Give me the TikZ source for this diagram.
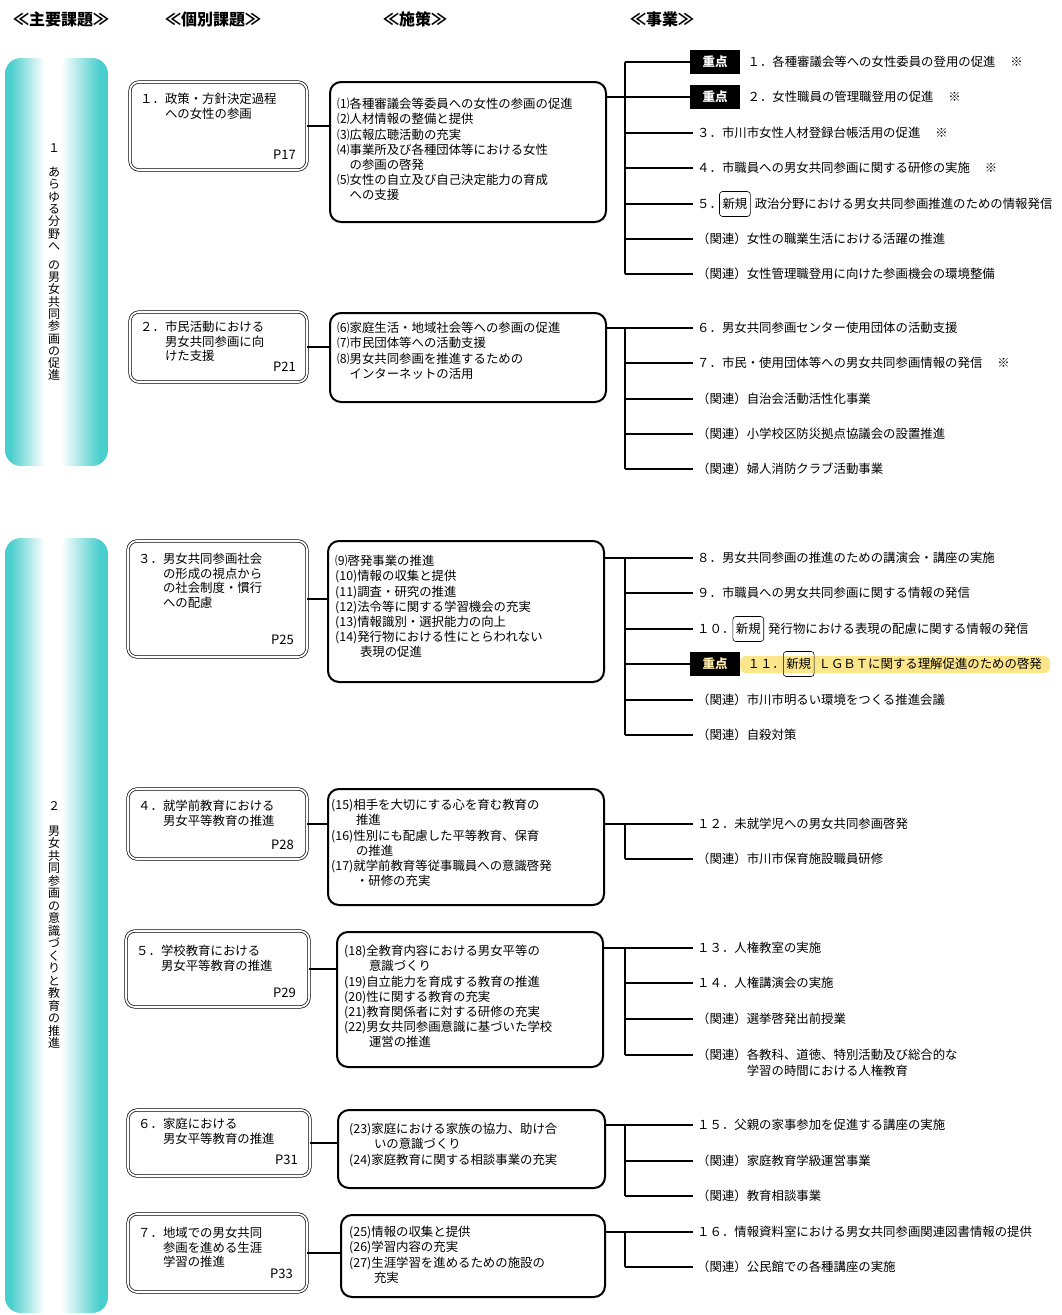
\documentclass[tikz,border=0pt]{standalone}
\usepackage{fontspec}
\setmainfont{Noto Sans CJK JP}
\definecolor{barc}{RGB}{72,206,204}
\definecolor{hlc}{RGB}{252,230,140}
\definecolor{jcream}{RGB}{255,238,175}
\pgfdeclarehorizontalshading{barshade}{100bp}{color(0bp)=(barc); color(25bp)=(barc); color(27.5bp)=(barc); color(44bp)=(white); color(52.5bp)=(white); color(71bp)=(barc); color(75bp)=(barc); color(100bp)=(barc)}
\begin{document}
\begin{tikzpicture}[x=1pt,y=-1pt,
  hdr/.style={font=\fontsize{16}{16}\selectfont\bfseries, inner sep=0},
  sidebar/.style={shading=barshade, rounded corners=16pt},
  vtxt/.style={align=center, anchor=north, inner sep=0},
  boxa/.style={draw, double=white, double distance=1.8pt, line width=0.7pt, rounded corners=9pt, inner sep=0},
  boxb/.style={draw, line width=2pt, rounded corners=11pt, inner sep=0},
  btxt/.style={font=\fontsize{12.4}{15.2}\selectfont, align=left, anchor=north west, inner sep=0},
  atxt/.style={font=\fontsize{12.4}{14.6}\selectfont, align=left, anchor=north west, inner sep=0},
  pg/.style={font=\fontsize{13}{13}\selectfont, anchor=east, inner sep=0},
  item/.style={font=\fontsize{12.4}{15}\selectfont, anchor=west, inner xsep=4pt, inner ysep=0},
  juten/.style={fill=black, text=white, font=\fontsize{12.5}{12}\selectfont\bfseries, minimum width=50, minimum height=24, anchor=west, inner sep=0},
  shinki/.style={draw, rounded corners=3pt, line width=0.6pt, font=\fontsize{12.4}{12}\selectfont, minimum height=25, anchor=west, inner xsep=3pt, inner ysep=0},
  ln/.style={line width=2pt},
  lnab/.style={line width=2.4pt}
]
\useasboundingbox (0,0) rectangle (1062,1315);
\fill[white] (0,0) rectangle (1062,1315);

% headers
\node[hdr] (h1) at (61,19) {≪主要課題≫};
\node[hdr] (h2) at (213,19) {≪個別課題≫};
\node[hdr] (h3) at (415,19) {≪施策≫};
\node[hdr] (h4) at (662,19) {≪事業≫};

% sidebars
\path[sidebar] (5,58) rectangle (108,466);
\path[sidebar] (5,538) rectangle (108,1313);
\node[vtxt, font=\fontsize{12}{12.3}\selectfont] (v1) at (54,143) {１\\　\\あ\\ら\\ゆ\\る\\分\\野\\へ\\[6.5pt]の\\男\\女\\共\\同\\参\\画\\の\\促\\進};
\node[vtxt, font=\fontsize{12}{12.5}\selectfont] (v2) at (54,801) {２\\　\\男\\女\\共\\同\\参\\画\\の\\意\\識\\づ\\く\\り\\と\\教\\育\\の\\推\\進};

% trunk x reference
\coordinate (tx) at (625,0);

% ================= group 1
\node[boxa, minimum width=177, minimum height=88] (a1) at (218.5,126) {};
\node[atxt] (a1t) at (140,93) {１．政策・方針決定過程\\　　への女性の参画};
\node[pg] (a1p) at (296,155) {P17};
\node[boxb, minimum width=276, minimum height=140] (b1) at (468,152) {};
\node[btxt] (b1t) at (337,98) {⑴各種審議会等委員への女性の参画の促進\\⑵人材情報の整備と提供\\⑶広報広聴活動の充実\\⑷事業所及び各種団体等における女性\\　の参画の啓発\\⑸女性の自立及び自己決定能力の育成\\　への支援};
\draw[lnab] (a1.east) -- (a1.east -| b1.west);

\node[juten] (j1) at (690,62) {重点};
\node[item] (i1) at ([xshift=3pt]j1.east) {１．各種審議会等への女性委員の登用の促進\hspace{1.2em}※};
\node[juten] (j2) at (690,97) {重点};
\node[item] (i2) at ([xshift=3pt]j2.east) {２．女性職員の管理職登用の促進\hspace{1.2em}※};
\node[item] (i3) at (693,133) {３．市川市女性人材登録台帳活用の促進\hspace{1.2em}※};
\node[item] (i4) at (693,168) {４．市職員への男女共同参画に関する研修の実施\hspace{1.2em}※};
\node[item] (i5n) at (693,204) {５．};
\node[shinki] (i5s) at ([xshift=-7pt]i5n.east) {新規\hspace{7pt}};
\node[item] (i5) at ([xshift=0pt]i5s.east) {政治分野における男女共同参画推進のための情報発信};
\node[item] (i6) at (693,239) {（関連）女性の職業生活における活躍の推進};
\node[item] (i7) at (693,274) {（関連）女性管理職登用に向けた参画機会の環境整備};
\draw[ln] (b1.east |- j2.west) -- (j2.west -| tx);
\draw[ln] (j1.west -| tx) -- (i7.west -| tx);
\draw[ln] (j1.west -| tx) -- (j1.west);
\draw[ln] (j2.west -| tx) -- (j2.west);
\foreach \n in {i3,i4,i5n,i6,i7} \draw[ln] (\n.west -| tx) -- (\n.west);

% ================= group 2
\node[boxa, minimum width=177, minimum height=70] (a2) at (218.5,347) {};
\node[atxt] (a2t) at (140,321) {２．市民活動における\\　　男女共同参画に向\\　　けた支援};
\node[pg] (a2p) at (296,367) {P21};
\node[boxb, minimum width=276, minimum height=89] (b2) at (468,357.5) {};
\node[btxt] (b2t) at (337,322) {⑹家庭生活・地域社会等への参画の促進\\⑺市民団体等への活動支援\\⑻男女共同参画を推進するための\\　インターネットの活用};
\draw[lnab] (a2.east) -- (a2.east -| b2.west);

\node[item] (k1) at (693,328) {６．男女共同参画センター使用団体の活動支援};
\node[item] (k2) at (693,363) {７．市民・使用団体等への男女共同参画情報の発信\hspace{1.2em}※};
\node[item] (k3) at (693,399) {（関連）自治会活動活性化事業};
\node[item] (k4) at (693,434) {（関連）小学校区防災拠点協議会の設置推進};
\node[item] (k5) at (693,469) {（関連）婦人消防クラブ活動事業};
\draw[ln] (b2.east |- k1.west) -- (k1.west -| tx);
\draw[ln] (k1.west -| tx) -- (k5.west -| tx);
\foreach \n in {k1,k2,k3,k4,k5} \draw[ln] (\n.west -| tx) -- (\n.west);

% ================= group 3
\node[boxa, minimum width=179, minimum height=116] (a3) at (217.5,599) {};
\node[atxt] (a3t) at (138,553) {３．男女共同参画社会\\　　の形成の視点から\\　　の社会制度・慣行\\　　への配慮};
\node[pg] (a3p) at (294,640) {P25};
\node[boxb, minimum width=276, minimum height=141] (b3) at (466,611.5) {};
\node[btxt] (b3t) at (335,555) {⑼啓発事業の推進\\(10)情報の収集と提供\\(11)調査・研究の推進\\(12)法令等に関する学習機会の充実\\(13)情報識別・選択能力の向上\\(14)発行物における性にとらわれない\\　　表現の促進};
\draw[lnab] (a3.east) -- (a3.east -| b3.west);

\fill[hlc, rounded corners=6pt] (740,656) rectangle (1050,673);
\node[item] (m1) at (693,558) {８．男女共同参画の推進のための講演会・講座の実施};
\node[item] (m2) at (693,593) {９．市職員への男女共同参画に関する情報の発信};
\node[item] (m3n) at (693,629) {１０．};
\node[shinki] (m3s) at ([xshift=-6pt]m3n.east) {新規\hspace{7pt}};
\node[item] (m3) at (m3s.east) {発行物における表現の配慮に関する情報の発信};
\node[juten, text=jcream] (m4j) at (690,664) {重点};
\node[item] (m4n) at ([xshift=3pt]m4j.east) {１１．};
\node[shinki] (m4s) at ([xshift=-6pt]m4n.east) {新規\hspace{7pt}};
\node[item] (m4) at (m4s.east) {ＬＧＢＴに関する理解促進のための啓発};
\node[item] (m5) at (693,700) {（関連）市川市明るい環境をつくる推進会議};
\node[item] (m6) at (693,735) {（関連）自殺対策};
\draw[ln] (b3.east |- m1.west) -- (m1.west -| tx);
\draw[ln] (m1.west -| tx) -- (m6.west -| tx);
\foreach \n in {m1,m2,m3n,m4j,m5,m6} \draw[ln] (\n.west -| tx) -- (\n.west);

% ================= group 4
\node[boxa, minimum width=179, minimum height=70] (a4) at (217.5,824) {};
\node[atxt] (a4t) at (138,800) {４．就学前教育における\\　　男女平等教育の推進};
\node[pg] (a4p) at (294,845) {P28};
\node[boxb, minimum width=276, minimum height=116] (b4) at (466,847) {};
\node[btxt] (b4t) at (331,799) {(15)相手を大切にする心を育む教育の\\　　推進\\(16)性別にも配慮した平等教育、保育\\　　の推進\\(17)就学前教育等従事職員への意識啓発\\　　・研修の充実};
\draw[lnab] (a4.east) -- (a4.east -| b4.west);

\node[item] (n1) at (693,824) {１２．未就学児への男女共同参画啓発};
\node[item] (n2) at (693,859) {（関連）市川市保育施設職員研修};
\draw[ln] (b4.east |- n1.west) -- (n1.west -| tx);
\draw[ln] (n1.west -| tx) -- (n2.west -| tx);
\foreach \n in {n1,n2} \draw[ln] (\n.west -| tx) -- (\n.west);

% ================= group 5
\node[boxa, minimum width=183, minimum height=76] (a5) at (217.5,969) {};
\node[atxt] (a5t) at (136,945) {５．学校教育における\\　　男女平等教育の推進};
\node[pg] (a5p) at (296,993) {P29};
\node[boxb, minimum width=266, minimum height=135] (b5) at (470,999.5) {};
\node[btxt] (b5t) at (344,945) {(18)全教育内容における男女平等の\\　　意識づくり\\(19)自立能力を育成する教育の推進\\(20)性に関する教育の充実\\(21)教育関係者に対する研修の充実\\(22)男女共同参画意識に基づいた学校\\　　運営の推進};
\draw[lnab] (a5.east) -- (a5.east -| b5.west);

\node[item] (p1) at (693,948) {１３．人権教室の実施};
\node[item] (p2) at (693,983) {１４．人権講演会の実施};
\node[item] (p3) at (693,1019) {（関連）選挙啓発出前授業};
\node[item] (p4) at (693,1055) {（関連）各教科、道徳、特別活動及び総合的な};
\node[item] (p4b) at ([yshift=-16pt]p4.west) {　　　　学習の時間における人権教育};
\draw[ln] (b5.east |- p1.west) -- (p1.west -| tx);
\draw[ln] (p1.west -| tx) -- (p4.west -| tx);
\foreach \n in {p1,p2,p3,p4} \draw[ln] (\n.west -| tx) -- (\n.west);

% ================= group 6
\node[boxa, minimum width=182, minimum height=66] (a6) at (219,1143) {};
\node[atxt] (a6t) at (138,1118) {６．家庭における\\　　男女平等教育の推進};
\node[pg] (a6p) at (298,1160) {P31};
\node[boxb, minimum width=267, minimum height=78] (b6) at (471.5,1149) {};
\node[btxt] (b6t) at (349,1123) {(23)家庭における家族の協力、助け合\\　　いの意識づくり\\(24)家庭教育に関する相談事業の充実};
\draw[lnab] (a6.east) -- (a6.east -| b6.west);

\node[item] (q1) at (693,1125) {１５．父親の家事参加を促進する講座の実施};
\node[item] (q2) at (693,1161) {（関連）家庭教育学級運営事業};
\node[item] (q3) at (693,1196) {（関連）教育相談事業};
\draw[ln] (b6.east |- q1.west) -- (q1.west -| tx);
\draw[ln] (q1.west -| tx) -- (q3.west -| tx);
\foreach \n in {q1,q2,q3} \draw[ln] (\n.west -| tx) -- (\n.west);

% ================= group 7
\node[boxa, minimum width=179, minimum height=78] (a7) at (217.5,1253) {};
\node[atxt] (a7t) at (138,1227) {７．地域での男女共同\\　　参画を進める生涯\\　　学習の推進};
\node[pg] (a7p) at (293,1274) {P33};
\node[boxb, minimum width=264, minimum height=82] (b7) at (473,1256) {};
\node[btxt] (b7t) at (349,1226) {(25)情報の収集と提供\\(26)学習内容の充実\\(27)生涯学習を進めるための施設の\\　　充実};
\draw[lnab] (a7.east) -- (a7.east -| b7.west);

\node[item] (r1) at (693,1232) {１６．情報資料室における男女共同参画関連図書情報の提供};
\node[item] (r2) at (693,1267) {（関連）公民館での各種講座の実施};
\draw[ln] (b7.east |- r1.west) -- (r1.west -| tx);
\draw[ln] (r1.west -| tx) -- (r2.west -| tx);
\foreach \n in {r1,r2} \draw[ln] (\n.west -| tx) -- (\n.west);
\end{tikzpicture}
\end{document}
